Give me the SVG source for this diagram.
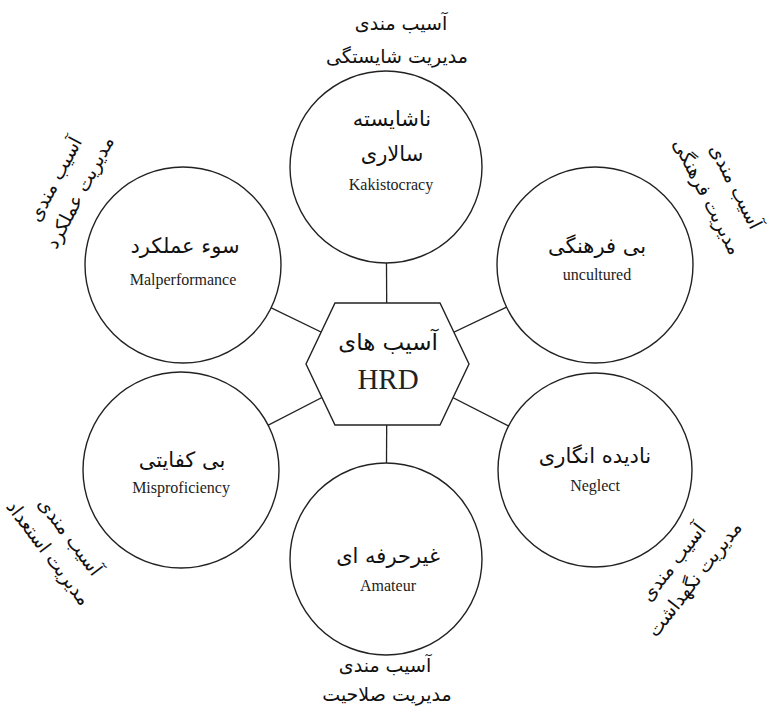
<svg xmlns="http://www.w3.org/2000/svg" width="767" height="711" viewBox="0 0 767 711">
<style>
.c{fill:#fff;stroke:#222;stroke-width:1.4}
.ln{stroke:#222;stroke-width:1.3;fill:none}
.fa{font-family:'DejaVu Sans',sans-serif;fill:#111;text-anchor:middle}
.t{font-size:21px}
.l{font-size:19px}
.en{font-family:'Liberation Serif',serif;fill:#222;text-anchor:middle;font-size:16px}
</style>
<rect width="767" height="711" fill="#fff"/>
<g id="connectors">
<line class="ln" x1="387" y1="364" x2="386" y2="167"/>
<line class="ln" x1="387" y1="364" x2="183" y2="265"/>
<line class="ln" x1="387" y1="364" x2="595" y2="265"/>
<line class="ln" x1="387" y1="364" x2="181" y2="470"/>
<line class="ln" x1="387" y1="364" x2="595" y2="470"/>
<line class="ln" x1="387" y1="364" x2="386" y2="559"/>
</g>
<g id="center">
<polygon class="c" points="335,303 440,303 469,364 440,425 335,425 306,364"/>
<text class="fa" x="388" y="350" font-size="23">آسیب های</text>
<text x="388" y="389" font-family="'Liberation Serif',serif" font-size="29" fill="#222" text-anchor="middle">HRD</text>
</g>
<g id="kakistocracy">
<circle class="c" cx="386" cy="167" r="96"/>
<text class="fa t" x="392" y="126">ناشایسته</text>
<text class="fa t" x="392" y="161">سالاری</text>
<text class="en" x="391" y="190">Kakistocracy</text>
</g>
<g id="malperformance">
<circle class="c" cx="183" cy="265" r="98"/>
<text class="fa t" x="185" y="253">سوء عملکرد</text>
<text class="en" x="183" y="285">Malperformance</text>
</g>
<g id="uncultured">
<circle class="c" cx="595" cy="265" r="98"/>
<text class="fa t" x="597" y="253">بی فرهنگی</text>
<text class="en" x="597" y="280">uncultured</text>
</g>
<g id="misproficiency">
<circle class="c" cx="181" cy="470" r="98"/>
<text class="fa t" x="182" y="467">بی کفایتی</text>
<text class="en" x="181" y="493">Misproficiency</text>
</g>
<g id="neglect">
<circle class="c" cx="595" cy="470" r="97"/>
<text class="fa t" x="595" y="463">نادیده انگاری</text>
<text class="en" x="595" y="491">Neglect</text>
</g>
<g id="amateur">
<circle class="c" cx="386" cy="559" r="96"/>
<text class="fa t" x="388" y="563">غیرحرفه ای</text>
<text class="en" x="388" y="591">Amateur</text>
</g>
<g id="labels">
<text class="fa l" x="401" y="30">آسیب مندی</text>
<text class="fa l" x="397" y="63">مدیریت شایستگی</text>
<text class="fa l" x="385" y="672">آسیب مندی</text>
<text class="fa l" x="387" y="701">مدیریت صلاحیت</text>
<g transform="translate(66,185) rotate(-62)">
<text class="fa l" x="0" y="-6">آسیب مندی</text>
<text class="fa l" x="0" y="22">مدیریت عملکرد</text>
</g>
<g transform="translate(721,194) rotate(63)">
<text class="fa l" x="0" y="-10">آسیب مندی</text>
<text class="fa l" x="-4" y="20">مدیریت فرهنگی</text>
</g>
<g transform="translate(60,544) rotate(53)">
<text class="fa l" x="0" y="-6">آسیب مندی</text>
<text class="fa l" x="0" y="21">مدیریت استعداد</text>
</g>
<g transform="translate(683,570) rotate(-52)">
<text class="fa l" x="0" y="-6">آسیب مندی</text>
<text class="fa l" x="0" y="21">مدیریت نگهداشت</text>
</g>
</g>
</svg>
